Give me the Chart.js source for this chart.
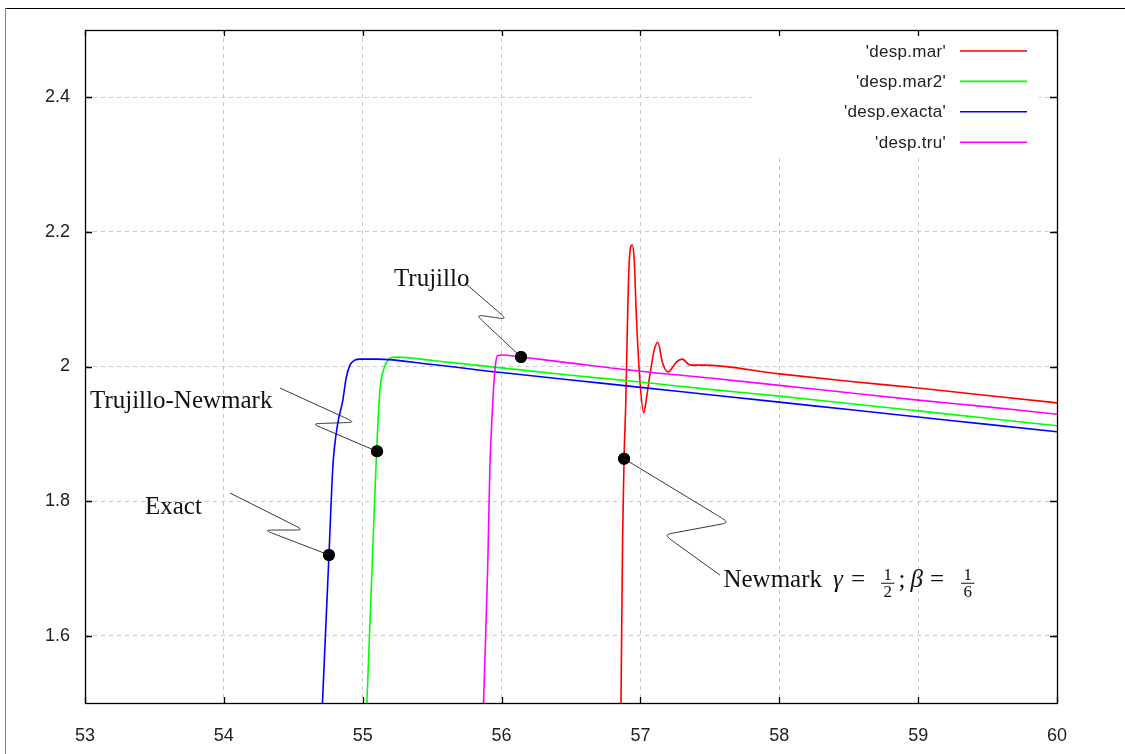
<!DOCTYPE html>
<html>
<head>
<meta charset="utf-8">
<script src="https://cdn.jsdelivr.net/npm/chart.js@4/dist/chart.umd.min.js"></script>
<style>
  body { margin: 0; background: #fff; }
  canvas { display: block; }
</style>
</head>
<body>
<canvas id="myChart" width="1125" height="754"></canvas>
<script>
// Axis ticks
const xTicks = [53, 54, 55, 56, 57, 58, 59, 60];
const yTicks = [1.6, 1.8, 2, 2.2, 2.4];

// 'desp.mar' (red)
const marX = [56.86, 56.872, 56.882, 56.895, 56.905, 56.92, 56.94, 56.955, 56.97, 56.996, 57.024, 57.045, 57.07, 57.1, 57.125, 57.16, 57.2, 57.26, 57.3, 57.36, 57.45, 58, 58.5, 59, 59.5, 60];
const marY = [1.50, 1.75, 1.863, 1.95, 2.05, 2.158, 2.181, 2.16, 2.079, 1.98, 1.931, 1.955, 1.99, 2.025, 2.036, 2.005, 1.992, 2.007, 2.011, 2.002, 2.002, 1.989, 1.978, 1.968, 1.957, 1.946];

// 'desp.mar2' (green)
const mar2X = [55.03, 55.06, 55.08, 55.10, 55.124, 55.15, 55.174, 55.2, 55.25, 55.5, 56, 56.5, 57, 57.5, 58, 58.5, 59, 59.5, 60];
const mar2Y = [1.50, 1.66, 1.77, 1.874, 1.965, 1.995, 2.007, 2.013, 2.014, 2.009, 1.998, 1.987, 1.977, 1.966, 1.956, 1.945, 1.934, 1.923, 1.912];

// 'desp.exacta' (blue)
const exactaX = [54.71, 54.757, 54.785, 54.82, 54.857, 54.88, 54.908, 54.94, 54.98, 55.1, 55.5, 56, 56.5, 57, 57.5, 58, 58.5, 59, 59.5, 60];
const exactaY = [1.50, 1.72, 1.851, 1.915, 1.950, 1.982, 2.002, 2.009, 2.011, 2.011, 2.003, 1.991, 1.980, 1.969, 1.958, 1.947, 1.936, 1.925, 1.914, 1.903];

// 'desp.tru' (magenta)
const truX = [55.87, 55.90, 55.916, 55.935, 55.95, 55.97, 56.0, 56.14, 56.5, 57, 57.5, 58, 58.5, 59, 59.5, 60];
const truY = [1.50, 1.70, 1.851, 1.94, 1.990, 2.016, 2.017, 2.014, 2.005, 1.993, 1.983, 1.972, 1.961, 1.950, 1.940, 1.929];

// Marked points and their callouts
const dotX = [54.757, 55.103, 56.14, 56.882];
const dotY = [1.720, 1.874, 2.014, 1.863];
const calloutLabels = ["Exact", "Trujillo-Newmark", "Trujillo", "Newmark"];
// leader waypoints: start, turn, turn back, end
const leaderX = [
  [54.044, 54.575, 54.29, 54.757],
  [54.404, 54.945, 54.635, 55.103],
  [55.737, 56.04, 55.815, 56.14],
  [56.882, 57.64, 57.17, 57.573]
];
const leaderY = [
  [1.812, 1.757, 1.757, 1.720],
  [1.968, 1.917, 1.915, 1.874],
  [2.124, 2.070, 2.077, 2.014],
  [1.863, 1.768, 1.750, 1.690]
];
// text anchors (left, baseline)
const labelX = [53.432, 53.036, 55.225, 57.598];
const labelY = [1.781, 1.938, 2.119, 1.672];

const seriesNames = ["'desp.mar'", "'desp.mar2'", "'desp.exacta'", "'desp.tru'"];
const seriesColors = ["#ff0000", "#00ff00", "#0000ff", "#ff00ff"];

function toPoints(xs, ys) {
  return xs.map((x, i) => ({ x: x, y: ys[i] }));
}

const lineSets = [
  toPoints(marX, marY),
  toPoints(mar2X, mar2Y),
  toPoints(exactaX, exactaY),
  toPoints(truX, truY)
];

const datasets = [
  {
    label: "dots",
    data: toPoints(dotX, dotY),
    showLine: false,
    pointRadius: 6,
    pointBackgroundColor: "#000",
    pointBorderWidth: 0,
    order: -1
  }
];
lineSets.forEach((pts, i) => {
  datasets.push({
    label: seriesNames[i],
    data: pts,
    showLine: true,
    borderColor: seriesColors[i],
    borderWidth: 1.6,
    pointRadius: 0,
    cubicInterpolationMode: "monotone",
    order: 10 - i
  });
});

const tickFont = { family: "'Liberation Sans', Arial, sans-serif", size: 18 };
const serif = "'Liberation Serif', 'Times New Roman', serif";

// gnuplot-like extras: frame, blank key area, border with inward ticks, key, callouts
const gnuplotLook = {
  id: "gnuplotLook",
  beforeDraw(chart) {
    const ctx = chart.ctx;
    ctx.save();
    ctx.fillStyle = "#fff";
    ctx.fillRect(0, 0, chart.width, chart.height);
    ctx.lineWidth = 1;
    ctx.strokeStyle = "#000";
    ctx.beginPath();
    ctx.moveTo(5, 8.5);
    ctx.lineTo(chart.width, 8.5);
    ctx.stroke();
    ctx.strokeStyle = "#808080";
    ctx.beginPath();
    ctx.moveTo(5.5, 8);
    ctx.lineTo(5.5, chart.height);
    ctx.stroke();
    ctx.restore();
  },
  beforeDatasetsDraw(chart) {
    const ctx = chart.ctx;
    const a = chart.chartArea;
    ctx.save();
    ctx.fillStyle = "#fff";
    ctx.fillRect(752, a.top + 1, a.right - 18 - 752, 127);
    ctx.restore();
  },
  afterDatasetsDraw(chart) {
    const ctx = chart.ctx;
    const a = chart.chartArea;
    const xs = chart.scales.x, ys = chart.scales.y;
    ctx.save();
    ctx.strokeStyle = "#000";
    ctx.lineWidth = 1.3;
    ctx.strokeRect(Math.round(a.left) + 0.5, Math.round(a.top) + 0.5, Math.round(a.right - a.left), Math.round(a.bottom - a.top));
    ctx.beginPath();
    xTicks.forEach(v => {
      const px = Math.round(xs.getPixelForValue(v)) + 0.5;
      ctx.moveTo(px, a.bottom); ctx.lineTo(px, a.bottom - 6);
      ctx.moveTo(px, a.top); ctx.lineTo(px, a.top + 6);
    });
    yTicks.forEach(v => {
      const py = Math.round(ys.getPixelForValue(v)) + 0.5;
      ctx.moveTo(a.left, py); ctx.lineTo(a.left + 7, py);
      ctx.moveTo(a.right, py); ctx.lineTo(a.right - 7, py);
    });
    ctx.stroke();

    // dots on top of everything
    ctx.fillStyle = "#000";
    dotX.forEach((x, i) => {
      ctx.beginPath();
      ctx.arc(xs.getPixelForValue(x), ys.getPixelForValue(dotY[i]), 6, 0, Math.PI * 2);
      ctx.fill();
    });
    ctx.restore();
  },
  afterDraw(chart) {
    const ctx = chart.ctx;
    const xs = chart.scales.x, ys = chart.scales.y;
    ctx.save();

    // key
    ctx.font = "17px 'Liberation Sans', Arial, sans-serif";
    ctx.textAlign = "right";
    ctx.textBaseline = "middle";
    if ("letterSpacing" in ctx) ctx.letterSpacing = "0.3px";
    seriesNames.forEach((name, i) => {
      const y = 51 + i * 30.4;
      ctx.fillStyle = "#222";
      ctx.fillText(name, 946, y + 1);
      ctx.strokeStyle = seriesColors[i];
      ctx.lineWidth = 1.6;
      ctx.beginPath();
      ctx.moveTo(960, y);
      ctx.lineTo(1027, y);
      ctx.stroke();
    });
    if ("letterSpacing" in ctx) ctx.letterSpacing = "0px";

    // leader lines
    ctx.strokeStyle = "#222";
    ctx.lineWidth = 0.9;
    leaderX.forEach((lx, k) => {
      const p = lx.map((x, i) => [xs.getPixelForValue(x), ys.getPixelForValue(leaderY[k][i])]);
      const r = 14;
      ctx.beginPath();
      ctx.moveTo(p[0][0], p[0][1]);
      for (let i = 1; i < p.length - 1; i++) {
        const prev = p[i - 1], cur = p[i], next = p[i + 1];
        const d1 = Math.hypot(cur[0] - prev[0], cur[1] - prev[1]);
        const d2 = Math.hypot(next[0] - cur[0], next[1] - cur[1]);
        const r1 = Math.min(r, d1 / 2), r2 = Math.min(r, d2 / 2);
        const a1 = [cur[0] - (cur[0] - prev[0]) / d1 * r1, cur[1] - (cur[1] - prev[1]) / d1 * r1];
        const a2 = [cur[0] + (next[0] - cur[0]) / d2 * r2, cur[1] + (next[1] - cur[1]) / d2 * r2];
        ctx.lineTo(a1[0], a1[1]);
        ctx.bezierCurveTo(cur[0], cur[1], cur[0], cur[1], a2[0], a2[1]);
      }
      ctx.lineTo(p[p.length - 1][0], p[p.length - 1][1]);
      ctx.stroke();
    });

    // callout texts
    ctx.fillStyle = "#111";
    ctx.textAlign = "left";
    ctx.textBaseline = "alphabetic";
    ctx.font = "25px " + serif;
    calloutLabels.forEach((t, i) => {
      ctx.fillText(t, xs.getPixelForValue(labelX[i]), ys.getPixelForValue(labelY[i]));
    });

    // Newmark parameters: gamma = 1/2 ; beta = 1/6
    let x = xs.getPixelForValue(labelX[3]) + ctx.measureText("Newmark").width + 11;
    const base = ys.getPixelForValue(labelY[3]);
    const frac = (num, den) => {
      ctx.font = "17px " + serif;
      const w = Math.max(ctx.measureText(num).width, ctx.measureText(den).width) + 5;
      ctx.textAlign = "center";
      ctx.fillText(num, x + w / 2, base - 7);
      ctx.fillText(den, x + w / 2, base + 10);
      ctx.fillRect(x, base - 4.5, w, 1);
      ctx.textAlign = "left";
      x += w;
    };
    const word = (t, style, gapAfter) => {
      ctx.font = style + "25px " + serif;
      ctx.fillText(t, x, base);
      x += ctx.measureText(t).width + gapAfter;
    };
    word("\u03b3", "italic ", 8);
    word("=", "", 16);
    frac("1", "2");
    x += 4;
    word(";", "", 5);
    word("\u03b2", "italic ", 7);
    word("=", "", 17);
    frac("1", "6");

    ctx.restore();
  }
};

const ctx = document.getElementById("myChart");
const myChart = new Chart(ctx, {
  type: "scatter",
  data: { datasets: datasets },
  options: {
    responsive: false,
    animation: false,
    devicePixelRatio: 1,
    layout: { padding: { top: 30, right: 68, left: 0, bottom: 0 } },
    plugins: {
      legend: { display: false },
      tooltip: { enabled: false }
    },
    scales: {
      x: {
        type: "linear",
        min: 53,
        max: 60,
        afterBuildTicks: s => { s.ticks = xTicks.map(v => ({ value: v })); },
        afterFit: s => { s.height = 51; },
        grid: { color: "#c8c8c8", lineWidth: 1, drawTicks: false },
        border: { display: false, dash: [4, 4] },
        ticks: {
          font: tickFont,
          color: "#222",
          padding: 22,
          maxRotation: 0,
          autoSkip: false,
          callback: v => String(v)
        }
      },
      y: {
        type: "linear",
        min: 1.5,
        max: 2.5,
        afterBuildTicks: s => { s.ticks = yTicks.map(v => ({ value: v })); },
        afterFit: s => { s.width = 85; },
        grid: { color: "#c8c8c8", lineWidth: 1, drawTicks: false },
        border: { display: false, dash: [4, 4] },
        ticks: {
          font: tickFont,
          color: "#222",
          padding: 15,
          callback: v => String(v)
        }
      }
    }
  },
  plugins: [gnuplotLook]
});
</script>
</body>
</html>
